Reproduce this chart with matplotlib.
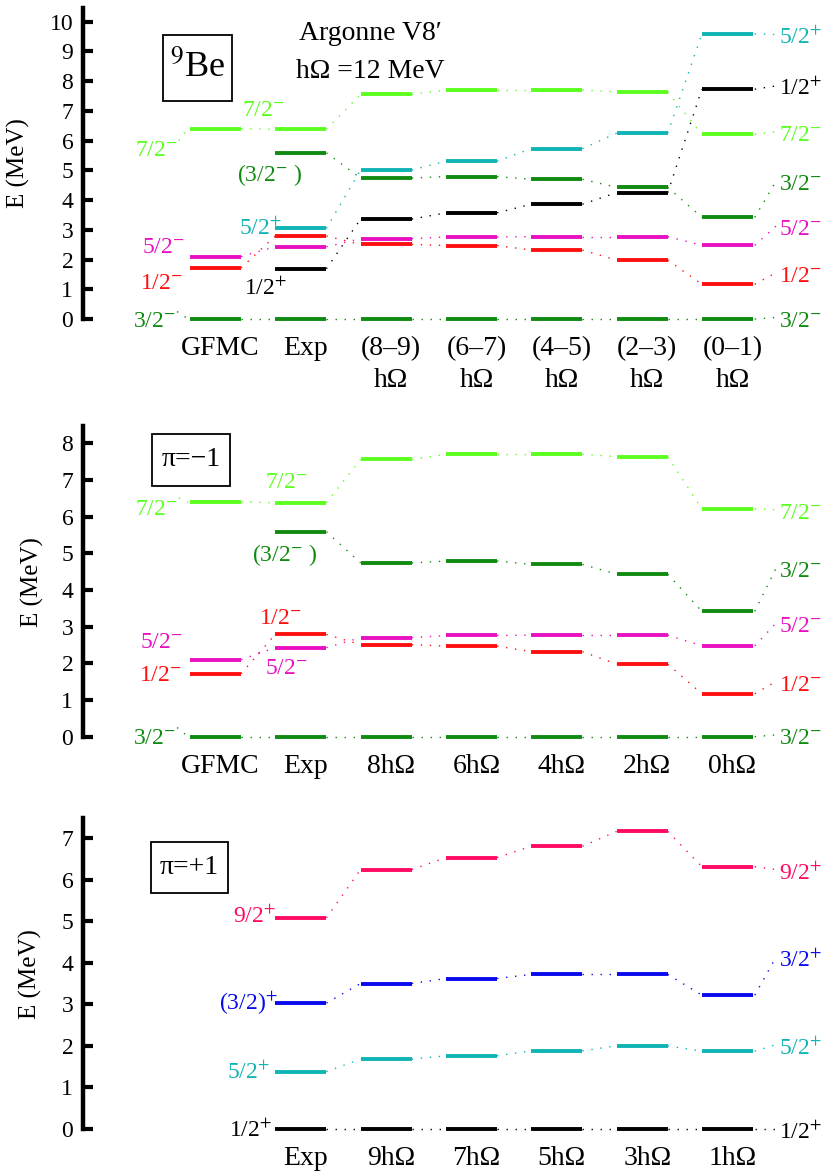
import matplotlib.pyplot as plt
from matplotlib.patches import Rectangle

plt.rcParams['font.family'] = ['Liberation Serif', 'DejaVu Serif']
plt.rcParams['mathtext.fontset'] = 'stix'

W, H = 822, 1171

# ------------------------------------------------------------------ #
# data (excitation energies, MeV); None = level not in that column
# ------------------------------------------------------------------ #
cols_all = ['GFMC', 'Exp', '(8–9)\nhΩ', '(6–7)\nhΩ', '(4–5)\nhΩ', '(2–3)\nhΩ', '(0–1)\nhΩ']
cols_neg = ['GFMC', 'Exp', '8hΩ', '6hΩ', '4hΩ', '2hΩ', '0hΩ']
cols_pos = ['', 'Exp', '9hΩ', '7hΩ', '5hΩ', '3hΩ', '1hΩ']

# negative parity states
e_32m = [0.0, 0.0, 0.0, 0.0, 0.0, 0.0, 0.0]
e_12m = [1.72, 2.79, 2.51, 2.47, 2.32, 1.98, 1.17]
e_52m = [2.10, 2.43, 2.70, 2.76, 2.77, 2.77, 2.48]
e_32m_2 = [None, 5.59, 4.74, 4.79, 4.70, 4.43, 3.42]
e_72m = [6.40, 6.38, 7.56, 7.70, 7.70, 7.64, 6.21]

# positive parity states relative to 3/2- ground state (top panel)
e_12p = [None, 1.69, 3.36, 3.57, 3.86, 4.25, 7.73]
e_52p = [None, 3.05, 5.01, 5.31, 5.73, 6.25, 9.59]

# positive parity states relative to 1/2+ (bottom panel)
p_12p = [None, 0.0, 0.0, 0.0, 0.0, 0.0, 0.0]
p_52p = [None, 1.38, 1.68, 1.76, 1.88, 2.00, 1.87]
p_32p = [None, 3.03, 3.50, 3.62, 3.72, 3.72, 3.22]
p_92p = [None, 5.08, 6.24, 6.53, 6.80, 7.16, 6.31]

LIME = '#5cff1f'
DKGREEN = '#118a11'
RED = '#ff1010'
MAG = '#e810c0'
CYAN = '#10b4b4'
BLACK = '#000000'
PINK = '#ff0a64'
BLUE = '#0a0aee'

HW = 0.3          # half width of a level bar
X0 = (83 - 215.5) / 85.33
X1 = (822 - 215.5) / 85.33
DOTS = (0, (1, 5.5))
DLW = 1.0
LAB = 17


def make_axes(z0, s, lo, hi):
    top_px = z0 - hi * s
    bot_px = z0 - lo * s
    ax = fig.add_axes([83 / W, 1 - bot_px / H, (W - 83) / W, (bot_px - top_px) / H])
    ax.set_xlim(X0, X1)
    ax.set_ylim(lo, hi)
    ax.patch.set_alpha(0)
    return ax


def style_axis(ax, top, ticks):
    for side in ['top', 'right', 'bottom']:
        ax.spines[side].set_visible(False)
    ax.spines['left'].set_linewidth(3.2)
    ax.spines['left'].set_bounds(0, top)
    ax.set_xticks([])
    ax.set_yticks(ticks)
    ax.tick_params(axis='y', direction='in', length=7, width=3, labelsize=17, pad=7)


def levels(ax, vals, color):
    prev = None
    for i, e in enumerate(vals):
        if e is None:
            prev = None
            continue
        ax.plot([i - HW, i + HW], [e, e], color=color, lw=2.8, solid_capstyle='butt')
        if prev is not None:
            ax.plot([i - 1 + HW, i - HW], [prev, e], color=color, lw=DLW, ls=DOTS)
        prev = e


def right_label(ax, vals, ly, txt, color):
    ax.plot([6 + HW + 0.02, 6.57], [vals[-1], ly + 0.05], color=color, lw=DLW, ls=DOTS)
    ax.annotate(txt, xy=(6.6, ly), xytext=(0, -5.5), textcoords='offset points',
                ha='left', va='baseline', fontsize=LAB, color=color)


def label(ax, x, ly, txt, color, ha='right', dots_to=None):
    ax.annotate(txt, xy=(x, ly), xytext=(0, -5.5), textcoords='offset points',
                ha=ha, va='baseline', fontsize=LAB, color=color)
    if dots_to is not None:
        ax.plot([x + 0.01, dots_to[0]], [ly + 0.25, dots_to[1]], color=color, lw=DLW, ls=DOTS)


def col_labels(ax, names):
    for i, name in enumerate(names):
        for k, line in enumerate(name.split('\n')):
            ax.annotate(line, xy=(i, 0), xytext=(3.6, -26 - 23 * k), textcoords='offset points',
                        ha='center', va='baseline', fontsize=20)


def box(x0, y0, x1, y1, txt, size):
    fig.patches.append(Rectangle((x0 / W, 1 - y1 / H), (x1 - x0) / W, (y1 - y0) / H,
                                 transform=fig.transFigure, fill=False, lw=1.3, ec='black'))
    fig.text((x0 + x1) / 2 / W, 1 - (y0 + y1) / 2 / H, txt, ha='center', va='center', fontsize=size)


fig = plt.figure(figsize=(W / 100, H / 100), dpi=100)

# ---------------------------- top panel ---------------------------- #
ax1 = make_axes(319, 29.73, -0.4, 10.6)
style_axis(ax1, 10.45, range(0, 11))
levels(ax1, e_32m, DKGREEN)
levels(ax1, e_12m, RED)
levels(ax1, e_52m, MAG)
levels(ax1, e_32m_2, DKGREEN)
levels(ax1, e_72m, LIME)
levels(ax1, e_12p, BLACK)
levels(ax1, e_52p, CYAN)

right_label(ax1, e_52p, 9.52, '5/2$^{+}$', CYAN)
right_label(ax1, e_12p, 7.79, '1/2$^{+}$', BLACK)
right_label(ax1, e_72m, 6.25, '7/2$^{-}$', LIME)
right_label(ax1, e_32m_2, 4.59, '3/2$^{-}$', DKGREEN)
right_label(ax1, e_52m, 3.08, '5/2$^{-}$', MAG)
right_label(ax1, e_12m, 1.51, '1/2$^{-}$', RED)
right_label(ax1, e_32m, 0.0, '3/2$^{-}$', DKGREEN)

label(ax1, -0.44, 5.75, '7/2$^{-}$', LIME, dots_to=(-HW - 0.02, e_72m[0]))
label(ax1, -0.36, 2.49, '5/2$^{-}$', MAG)
label(ax1, -0.38, 1.25, '1/2$^{-}$', RED)
label(ax1, -0.46, 0.0, '3/2$^{-}$', DKGREEN, dots_to=(-HW - 0.02, 0.0))

label(ax1, 0.81, 7.10, '7/2$^{-}$', LIME)
label(ax1, 0.64, 4.91, '(3/2$^{-}$ )', DKGREEN, ha='center')
label(ax1, 0.78, 3.09, '5/2$^{+}$', CYAN)
label(ax1, 0.84, 1.08, '1/2$^{+}$', BLACK)
col_labels(ax1, cols_all)

fig.text(18 / W, 1 - 163 / H, 'E (MeV)', rotation=90, ha='center', va='center', fontsize=18)
box(163, 35, 232, 101, '$^{9}$Be', 26)
fig.text(370 / W, 1 - 34 / H, 'Argonne V8′', ha='center', va='center', fontsize=20)
fig.text(370 / W, 1 - 72 / H, 'hΩ =12 MeV', ha='center', va='center', fontsize=20)

# -------------------------- middle panel --------------------------- #
ax2 = make_axes(736.7, 36.67, -0.4, 8.8)
style_axis(ax2, 8.47, range(0, 9))
levels(ax2, e_32m, DKGREEN)
levels(ax2, e_12m, RED)
levels(ax2, e_52m, MAG)
levels(ax2, e_32m_2, DKGREEN)
levels(ax2, e_72m, LIME)

right_label(ax2, e_72m, 6.14, '7/2$^{-}$', LIME)
right_label(ax2, e_32m_2, 4.55, '3/2$^{-}$', DKGREEN)
right_label(ax2, e_52m, 3.05, '5/2$^{-}$', MAG)
right_label(ax2, e_12m, 1.46, '1/2$^{-}$', RED)
right_label(ax2, e_32m, 0.0, '3/2$^{-}$', DKGREEN)

label(ax2, -0.44, 6.26, '7/2$^{-}$', LIME, dots_to=(-HW - 0.02, e_72m[0]))
label(ax2, -0.38, 2.64, '5/2$^{-}$', MAG)
label(ax2, -0.39, 1.73, '1/2$^{-}$', RED)
label(ax2, -0.46, 0.0, '3/2$^{-}$', DKGREEN, dots_to=(-HW - 0.02, 0.0))

label(ax2, 1.08, 7.00, '7/2$^{-}$', LIME)
label(ax2, 0.81, 5.00, '(3/2$^{-}$ )', DKGREEN, ha='center')
label(ax2, 1.01, 3.27, '1/2$^{-}$', RED)
label(ax2, 1.08, 1.91, '5/2$^{-}$', MAG)
col_labels(ax2, cols_neg)

fig.text(32 / W, 1 - 582 / H, 'E (MeV)', rotation=90, ha='center', va='center', fontsize=18)
box(152, 434, 230, 486, 'π=−1', 20)

# -------------------------- bottom panel --------------------------- #
ax3 = make_axes(1129, 41.57, -0.4, 7.6)
style_axis(ax3, 7.47, range(0, 8))
levels(ax3, p_12p, BLACK)
levels(ax3, p_52p, CYAN)
levels(ax3, p_32p, BLUE)
levels(ax3, p_92p, PINK)

right_label(ax3, p_92p, 6.19, '9/2$^{+}$', PINK)
right_label(ax3, p_32p, 4.09, '3/2$^{+}$', BLUE)
right_label(ax3, p_52p, 1.98, '5/2$^{+}$', CYAN)
right_label(ax3, p_12p, -0.05, '1/2$^{+}$', BLACK)

label(ax3, 0.71, 5.15, '9/2$^{+}$', PINK)
label(ax3, 0.73, 3.06, '(3/2)$^{+}$', BLUE)
label(ax3, 0.64, 1.40, '5/2$^{+}$', CYAN)
label(ax3, 0.66, 0.0, '1/2$^{+}$', BLACK)
col_labels(ax3, cols_pos)

fig.text(30 / W, 1 - 974 / H, 'E (MeV)', rotation=90, ha='center', va='center', fontsize=18)
box(151, 842, 228, 893, 'π=+1', 20)

fig.savefig('out.png', dpi=100)
